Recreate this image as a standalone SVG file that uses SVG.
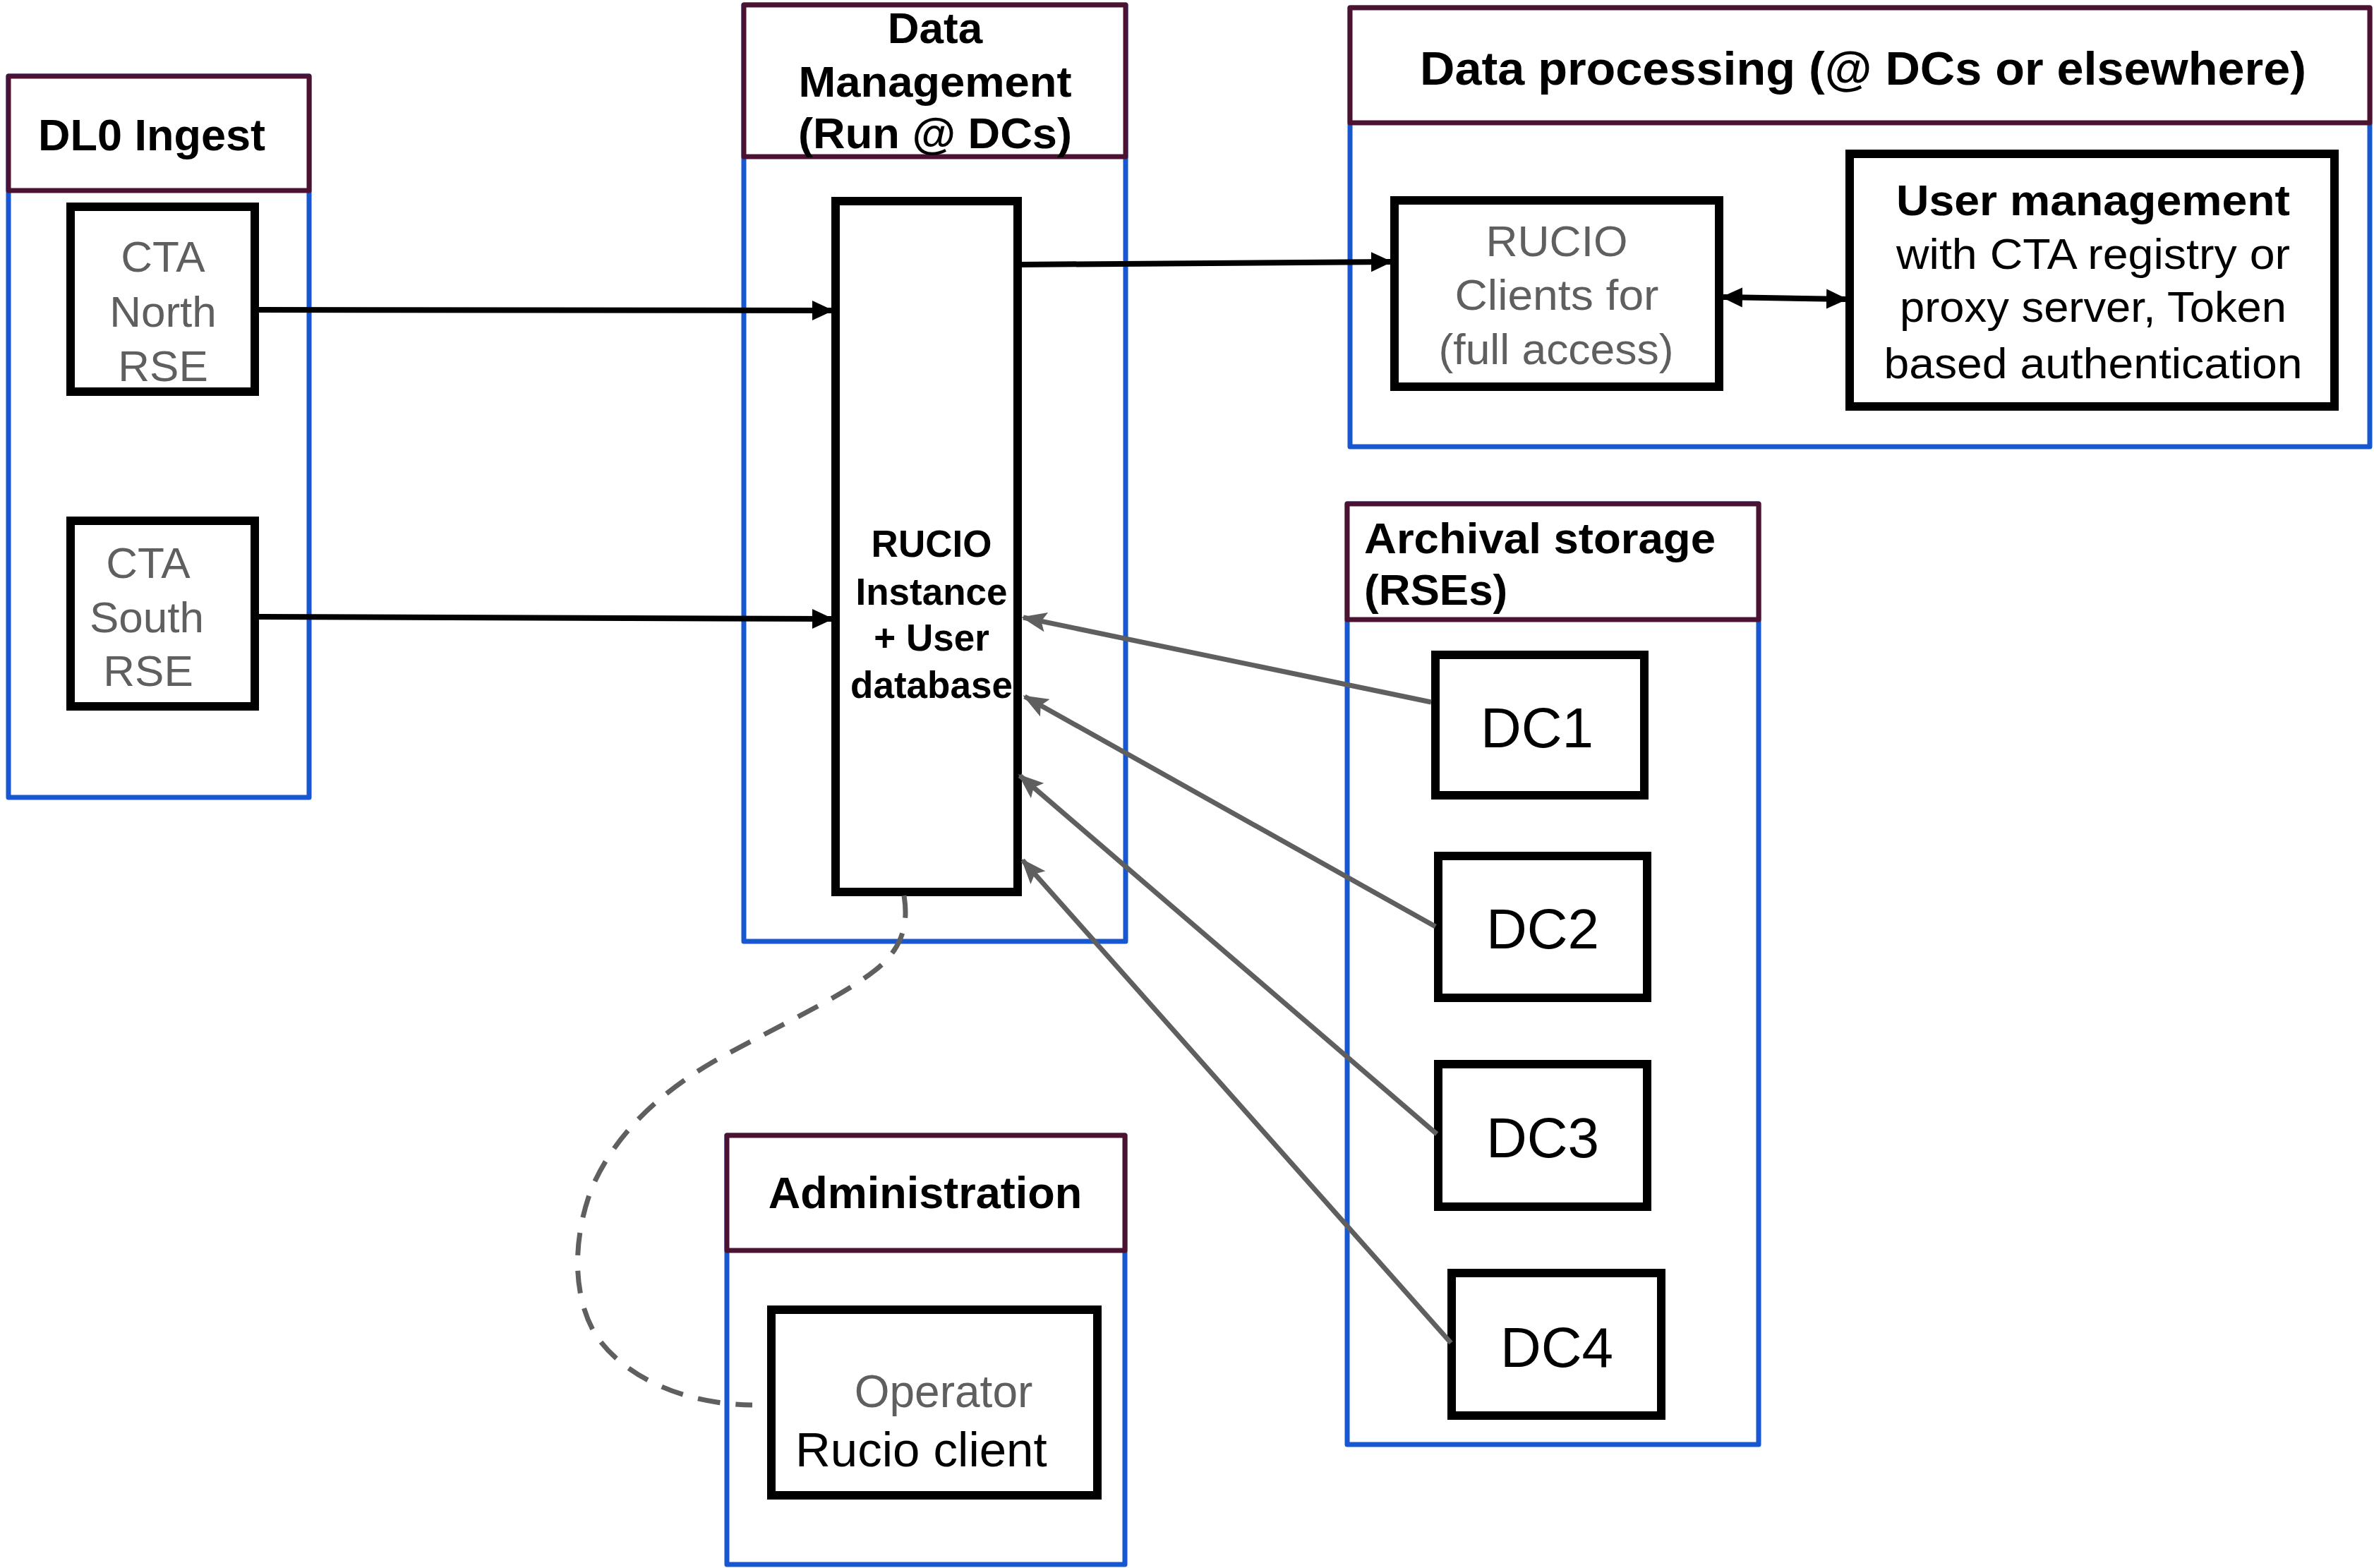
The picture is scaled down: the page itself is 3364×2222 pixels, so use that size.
<svg xmlns="http://www.w3.org/2000/svg" width="3364" height="2222" viewBox="0 0 3364 2222">
<style>
.blue{fill:none;stroke:#1757cf;stroke-width:7;stroke-linejoin:round}
.hdr{fill:#fff;stroke:#4b1331;stroke-width:7;stroke-linejoin:round}
.box{fill:#fff;stroke:#000;stroke-width:12}
.ht{font-family:"Liberation Sans",Arial,sans-serif;font-weight:bold;fill:#000}
.gt{font-family:"Liberation Sans",Arial,sans-serif;fill:#5f5f5f}
.bt{font-family:"Liberation Sans",Arial,sans-serif;fill:#000}
.bl{stroke:#000;stroke-width:8;fill:none}
.gl{stroke:#5f5f5f;stroke-width:7;fill:none}
</style>
<defs>
<marker id="ab" viewBox="0 0 30 30" markerWidth="30" markerHeight="30" refX="27" refY="15" orient="auto" markerUnits="userSpaceOnUse"><path d="M0,1 L30,15 L0,29 z" fill="#000"/></marker>
<marker id="abs" viewBox="0 0 30 30" markerWidth="30" markerHeight="30" refX="3" refY="15" orient="auto" markerUnits="userSpaceOnUse"><path d="M30,1 L0,15 L30,29 z" fill="#000"/></marker>
<marker id="ag" viewBox="0 0 36 28" markerWidth="36" markerHeight="28" refX="33" refY="14" orient="auto" markerUnits="userSpaceOnUse"><path d="M0,0 L36,14 L0,28 L7,14 z" fill="#5f5f5f"/></marker>
</defs>

<g id="dl0-ingest">
<rect class="blue" x="12" y="108" width="426" height="1022"/>
<rect class="hdr" x="12" y="108" width="426" height="162"/>
<text class="ht" x="215" y="213" font-size="63" text-anchor="middle">DL0 Ingest</text>
</g>
<g id="cta-north">
<rect class="box" x="100" y="293" width="261" height="262"/>
<text class="gt" font-size="62" text-anchor="middle"><tspan x="231" y="385">CTA</tspan><tspan x="231" y="463">North</tspan><tspan x="231" y="540">RSE</tspan></text>
</g>
<g id="cta-south">
<rect class="box" x="100" y="738" width="261" height="263"/>
<text class="gt" font-size="62" text-anchor="middle"><tspan x="210" y="819">CTA</tspan><tspan x="208" y="896">South</tspan><tspan x="210" y="972">RSE</tspan></text>
</g>

<g id="data-management">
<rect class="blue" x="1054" y="7" width="541" height="1327"/>
<rect class="hdr" x="1054" y="7" width="541" height="215"/>
<text class="ht" font-size="62" text-anchor="middle"><tspan x="1325" y="61">Data</tspan><tspan x="1325" y="137" textLength="387" lengthAdjust="spacingAndGlyphs">Management</tspan><tspan x="1325" y="210" textLength="388" lengthAdjust="spacingAndGlyphs">(Run @ DCs)</tspan></text>
</g>
<g id="rucio-instance">
<rect class="box" x="1184" y="285" width="258" height="979"/>
<text class="ht" font-size="53" text-anchor="middle"><tspan x="1320" y="789">RUCIO</tspan><tspan x="1320" y="857">Instance</tspan><tspan x="1320" y="922">+ User</tspan><tspan x="1320" y="989">database</tspan></text>
</g>

<g id="data-processing">
<rect class="blue" x="1913" y="11" width="1445" height="622"/>
<rect class="hdr" x="1913" y="11" width="1445" height="163"/>
<text class="ht" x="2012" y="120" font-size="66" textLength="1256" lengthAdjust="spacingAndGlyphs">Data processing (@ DCs or elsewhere)</text>
</g>
<g id="rucio-clients">
<rect class="box" x="1976" y="284" width="460" height="264"/>
<text class="gt" font-size="62" text-anchor="middle"><tspan x="2206" y="363" textLength="201" lengthAdjust="spacingAndGlyphs">RUCIO</tspan><tspan x="2206" y="439" textLength="289" lengthAdjust="spacingAndGlyphs">Clients for</tspan><tspan x="2205" y="516" textLength="333" lengthAdjust="spacingAndGlyphs">(full access)</tspan></text>
</g>
<g id="user-management">
<rect class="box" x="2621" y="218" width="687" height="358"/>
<text class="ht" x="2966" y="305" font-size="62" text-anchor="middle" textLength="558" lengthAdjust="spacingAndGlyphs">User management</text>
<text class="bt" font-size="62" text-anchor="middle"><tspan x="2966" y="381" textLength="558" lengthAdjust="spacingAndGlyphs">with CTA registry or</tspan><tspan x="2966" y="456" textLength="548" lengthAdjust="spacingAndGlyphs">proxy server, Token</tspan><tspan x="2966" y="536" textLength="593" lengthAdjust="spacingAndGlyphs">based authentication</tspan></text>
</g>

<g id="archival-storage">
<rect class="blue" x="1909" y="714" width="583" height="1333"/>
<rect class="hdr" x="1909" y="714" width="583" height="164"/>
<text class="ht" font-size="62"><tspan x="1933" y="784" textLength="498" lengthAdjust="spacingAndGlyphs">Archival storage</tspan><tspan x="1933" y="857">(RSEs)</tspan></text>
</g>
<g id="dc1">
<rect class="box" x="2034" y="928" width="296" height="199"/>
<text class="bt" x="2178" y="1059" font-size="80" text-anchor="middle">DC1</text>
</g>
<g id="dc2">
<rect class="box" x="2038" y="1213" width="296" height="201"/>
<text class="bt" x="2186" y="1344" font-size="80" text-anchor="middle">DC2</text>
</g>
<g id="dc3">
<rect class="box" x="2038" y="1508" width="296" height="202"/>
<text class="bt" x="2186" y="1640" font-size="80" text-anchor="middle">DC3</text>
</g>
<g id="dc4">
<rect class="box" x="2057" y="1804" width="297" height="202"/>
<text class="bt" x="2206" y="1937" font-size="80" text-anchor="middle">DC4</text>
</g>

<g id="administration">
<rect class="blue" x="1030" y="1609" width="564" height="608"/>
<rect class="hdr" x="1030" y="1609" width="564" height="163"/>
<text class="ht" x="1311" y="1712" font-size="63" text-anchor="middle">Administration</text>
</g>
<g id="operator-client">
<rect class="box" x="1093" y="1856" width="462" height="263"/>
<text class="gt" x="1337" y="1994" font-size="64" text-anchor="middle">Operator</text>
<text class="bt" x="1127" y="2078" font-size="69">Rucio client</text>
</g>

<g id="connectors">
<path class="bl" d="M367,439 L1178,440" marker-end="url(#ab)"/>
<path class="bl" d="M367,874 L1178,877" marker-end="url(#ab)"/>
<path class="bl" d="M1442,375 L1970,371" marker-end="url(#ab)"/>
<path class="bl" d="M2442,421 L2615,424" marker-start="url(#abs)" marker-end="url(#ab)"/>
<path class="gl" d="M2028,995 L1450,875" marker-end="url(#ag)"/>
<path class="gl" d="M2034,1313 L1452,987" marker-end="url(#ag)"/>
<path class="gl" d="M2036,1607 L1445,1099" marker-end="url(#ag)"/>
<path class="gl" d="M2056,1903 L1449,1219" marker-end="url(#ag)"/>
<path d="M1281,1269 C1286,1300 1285,1340 1240,1375 C1190,1415 1080,1465 1010,1505 C930,1552 870,1610 838,1685 C810,1760 812,1840 845,1893 C880,1945 960,1990 1066,1991" fill="none" stroke="#5f5f5f" stroke-width="7" stroke-dasharray="32 22"/>
</g>
</svg>
